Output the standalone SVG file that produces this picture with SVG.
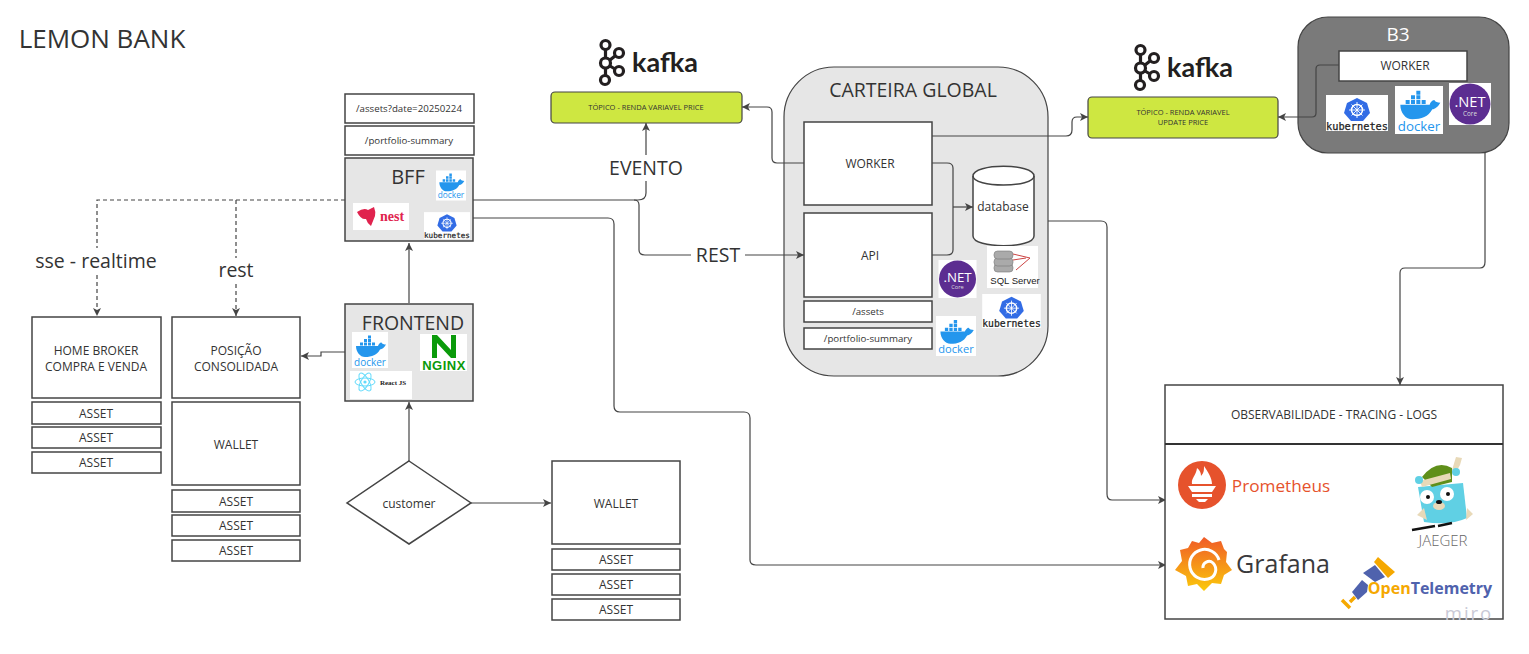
<svg xmlns="http://www.w3.org/2000/svg" width="1529" height="654" viewBox="0 0 1529 654">
<style>
text{font-family:"Open Sans","Noto Sans","Liberation Sans",sans-serif;fill:#333;text-anchor:middle}
.b{fill:#fff;stroke:#444;stroke-width:1.5}
.g{fill:#e6e6e6;stroke:#444;stroke-width:1.5}
.t{font-size:12px}
.s{font-size:9.700px}
.x{font-size:7.500px}
.c{fill:none;stroke:#444;stroke-width:1.2}
.d{stroke-dasharray:4 3}
.a{marker-end:url(#arr)}
.lime{fill:#cee741;stroke:#444;stroke-width:1.2}
.lbl{font-size:19.500px}
</style>
<defs>
<marker id="arr" markerWidth="10" markerHeight="10" refX="8" refY="4" orient="auto" markerUnits="userSpaceOnUse"><path d="M0 0L8 4L0 8L2 4Z" fill="#444"/></marker>
<linearGradient id="gr" x1="0" y1="0" x2="0" y2="1"><stop offset="0" stop-color="#f05a28"/><stop offset="1" stop-color="#fbca0a"/></linearGradient>
<symbol id="docker" viewBox="0 0 36 36" overflow="visible">
<rect width="36" height="36" fill="#fff"/>
<path d="M4 14H26C27 11 29 10.500 29.500 10.500C30 12 32 12.500 34 12.500C32 16 30 17 28 17.500C25 23 20 25 13 25C8 25 4 20 4 14Z" fill="#2496ed"/>
<path d="M8 10.500h3v3h-3zM12 10.500h3v3h-3zM16 10.500h3v3h-3zM20 10.500h3v3h-3zM12 7h3v3h-3zM16 7h3v3h-3zM16 3.500h3v3h-3z" fill="#2496ed"/>
<text x="18" y="33.500" style="font-size:10px;fill:#2496ed">docker</text>
</symbol>
<symbol id="k8s" viewBox="0 0 62 36" overflow="visible">
<rect width="62" height="36" fill="#fff"/>
<path d="M31 3L41 8L44 18L37 26H25L18 18L21 8Z" fill="#326ce5"/>
<circle cx="31" cy="15" r="5.500" fill="none" stroke="#fff" stroke-width="1.500"/>
<path d="M31 7V23M23 15H39M25.500 9.500L36.500 20.500M36.500 9.500L25.500 20.500" stroke="#fff" stroke-width=".9"/>
<text x="31" y="34.500" style="font-family:'DejaVu Sans Mono','Liberation Mono',monospace;font-size:10.300px;fill:#222;stroke:#222;stroke-width:.25">kubernetes</text>
</symbol>
<symbol id="net" viewBox="0 0 40 40" overflow="visible">
<rect width="40" height="40" fill="#fff"/>
<circle cx="20" cy="20" r="19.500" fill="#5c2d91"/>
<text x="20" y="23" style="font-size:14px;fill:#fff">.NET</text>
<text x="20" y="31" style="font-size:6px;fill:#ddd">Core</text>
</symbol>
<symbol id="kafka" viewBox="0 0 104 48" overflow="visible">
<g fill="none" stroke="#231f20" stroke-width="3.200">
<circle cx="8.500" cy="7" r="4.500"/><circle cx="8.500" cy="25" r="5"/><circle cx="8" cy="42" r="4.500"/><circle cx="22" cy="15" r="4.500"/><circle cx="22" cy="33" r="4.500"/>
<path d="M8.500 11.500V20M8.500 30V37.500M13 22L18 18M13 28L18 31"/>
</g>
<text x="68" y="34" style="font-family:'Lato','Open Sans',sans-serif;font-size:27px;font-weight:700;fill:#231f20">kafka</text>
</symbol>
</defs>
<rect width="1529" height="654" fill="#fff"/>
<text x="102" y="48" style="font-size:26px">LEMON BANK</text>

<g id="carteira"><rect x="784" y="67" width="264" height="309" rx="50" fill="#e6e6e6" stroke="#444" stroke-width="1.200"/><text x="913" y="97" style="font-size:19.500px">CARTEIRA GLOBAL</text></g>
<g id="b3"><rect x="1298" y="17" width="211" height="136" rx="30" fill="#7a7a7a" stroke="#444" stroke-width="1.200"/><text x="1398" y="41" style="font-size:19px;fill:#fff">B3</text></g>

<g id="connectors">
<path class="c d" d="M345 200H97V248M236 200V258"/>
<path class="c d a" d="M97 275V316"/>
<path class="c d a" d="M236 284V316"/>
<path class="c" d="M473 200H634Q639 200 639 205V250Q639 255 645 255H691"/>
<path class="c a" d="M745 255H804"/>
<path class="c" d="M634 200H638Q646 200 646 193V181"/>
<path class="c a" d="M646 155V123"/>
<path class="c a" d="M473 218H608Q614 218 614 224V406Q614 412 620 412H744Q750 412 750 418V560Q750 565 756 565H1166"/>
<path class="c a" d="M345 352H321V356H301"/>
<path class="c a" d="M409 303V243"/>
<path class="c a" d="M409 461V402"/>
<path class="c a" d="M471 503H551"/>
<path class="c a" d="M804 163H777Q772 163 772 158V112Q772 107 767 107H742"/>
<path class="c a" d="M932 136H1066Q1072 136 1072 130V122Q1072 117 1077 117H1088"/>
<path class="c" d="M932 163H947Q953 163 953 168V250Q953 255 947 255H932"/>
<path class="c a" d="M953 207H973"/>
<path class="c a" d="M1048 221H1101Q1107 221 1107 227V494Q1107 500 1112 500H1166"/>
<path class="c a" d="M1339 65H1320Q1316 65 1316 69V113Q1316 117 1312 117H1278"/>
<path class="c a" d="M1485 153V262Q1485 268 1480 268H1405Q1400 268 1400 273V385"/>
</g>
<text x="96" y="268" class="lbl">sse - realtime</text>
<text x="236" y="277" class="lbl">rest</text>
<text x="646" y="175" class="lbl">EVENTO</text>
<text x="718" y="262" class="lbl">REST</text>

<g id="kafka1"><use href="#kafka" x="597" y="38" width="104" height="48"/></g>
<g id="topic1"><rect class="lime" x="551" y="92" width="191" height="31" rx="4"/><text class="x" x="646" y="110">TÓPICO - RENDA VARIAVEL PRICE</text></g>
<g id="kafka2"><use href="#kafka" x="1132" y="43" width="104" height="48"/></g>
<g id="topic2"><rect class="lime" x="1088" y="97" width="190" height="41" rx="4"/><text class="x" x="1183" y="115">TÓPICO - RENDA VARIAVEL</text><text class="x" x="1183" y="125">UPDATE PRICE</text></g>

<g id="b3-worker"><rect class="b" x="1339" y="51" width="128" height="30"/><text class="t" x="1405" y="70">WORKER</text></g>
<use href="#k8s" x="1326" y="95" width="62" height="36"/>
<use href="#docker" x="1395" y="86" width="48" height="48"/>
<use href="#net" x="1449" y="83" width="42" height="42"/>

<g id="path1"><rect class="b" x="345" y="94" width="129" height="29"/><text class="s" x="409" y="112">/assets?date=20250224</text></g>
<g id="path2"><rect class="b" x="345" y="126" width="129" height="29"/><text class="s" x="409" y="144">/portfolio-summary</text></g>
<g id="bff"><rect class="g" x="345" y="158" width="128" height="83"/><text x="408" y="184" style="font-size:20px">BFF</text>
<use href="#docker" x="436" y="170" width="30" height="31"/>
<rect x="353" y="203" width="56" height="27" fill="#fff"/>
<path d="M357 212Q364 207 368 210L374 207Q376 212 375 216L371 226Q367 223 366 219Q361 220 357 212Z" fill="#e0234e"/>
<text x="392" y="221" style="font-family:'Liberation Serif',serif;font-size:14px;font-weight:700;fill:#e0234e">nest</text>
<use href="#k8s" x="424" y="212" width="46" height="27"/></g>

<g id="frontend"><rect class="g" x="345" y="304" width="128" height="97"/><text x="413" y="330" style="font-size:19.500px">FRONTEND</text>
<use href="#docker" x="352" y="332" width="36" height="36"/>
<rect x="420" y="334" width="47" height="37" fill="#fff"/>
<path d="M432 358V335H437L451 350V335H456V358H451L437 343V358Z" fill="#0a9a0a"/>
<text x="444" y="370" style="font-family:'Liberation Sans',sans-serif;font-size:13px;font-weight:700;fill:#0a9a0a;letter-spacing:.5px">NGINX</text>
<rect x="350" y="371" width="62" height="28" fill="#fff"/>
<g fill="none" stroke="#61dafb" stroke-width="1"><ellipse cx="365" cy="382" rx="10" ry="4"/><ellipse cx="365" cy="382" rx="10" ry="4" transform="rotate(60 365 382)"/><ellipse cx="365" cy="382" rx="10" ry="4" transform="rotate(120 365 382)"/></g>
<circle cx="365" cy="382" r="1.600" fill="#61dafb"/>
<text x="393" y="385" style="font-family:'Liberation Serif',serif;font-size:7px;font-weight:700;fill:#222">React JS</text></g>

<g id="homebroker"><rect class="b" x="32" y="317" width="129" height="81"/><text class="t" x="96" y="355">HOME BROKER</text><text class="t" x="96" y="371">COMPRA E VENDA</text></g>
<g id="asset1"><rect class="b" x="32" y="402" width="129" height="22"/><text class="t" x="96" y="418">ASSET</text></g>
<g id="asset2"><rect class="b" x="32" y="427" width="129" height="21"/><text class="t" x="96" y="442">ASSET</text></g>
<g id="asset3"><rect class="b" x="32" y="452" width="129" height="21"/><text class="t" x="96" y="467">ASSET</text></g>

<g id="posicao"><rect class="b" x="172" y="317" width="128" height="81"/><text class="t" x="236" y="355">POSIÇÃO</text><text class="t" x="236" y="371">CONSOLIDADA</text></g>
<g id="wallet1"><rect class="b" x="172" y="402" width="128" height="83"/><text class="t" x="236" y="449">WALLET</text></g>
<g id="asset4"><rect class="b" x="172" y="490" width="128" height="22"/><text class="t" x="236" y="506">ASSET</text></g>
<g id="asset5"><rect class="b" x="172" y="515" width="128" height="21"/><text class="t" x="236" y="530">ASSET</text></g>
<g id="asset6"><rect class="b" x="172" y="540" width="128" height="21"/><text class="t" x="236" y="555">ASSET</text></g>

<g id="customer"><path class="b" d="M409 461L471 503L409 544L347 503Z"/><text class="t" x="409" y="508">customer</text></g>

<g id="wallet2"><rect class="b" x="552" y="461" width="128" height="83"/><text class="t" x="616" y="508">WALLET</text></g>
<g id="asset7"><rect class="b" x="552" y="549" width="128" height="21"/><text class="t" x="616" y="564">ASSET</text></g>
<g id="asset8"><rect class="b" x="552" y="574" width="128" height="21"/><text class="t" x="616" y="589">ASSET</text></g>
<g id="asset9"><rect class="b" x="552" y="599" width="128" height="21"/><text class="t" x="616" y="614">ASSET</text></g>

<g id="worker"><rect class="b" x="804" y="122" width="128" height="83"/><text class="t" x="870" y="168">WORKER</text></g>
<g id="api"><rect class="b" x="804" y="213" width="128" height="84"/><text class="t" x="870" y="260">API</text></g>
<g id="assets"><rect class="b" x="804" y="301" width="128" height="21"/><text class="s" x="868" y="315">/assets</text></g>
<g id="summary"><rect class="b" x="804" y="328" width="128" height="21"/><text class="s" x="868" y="342">/portfolio-summary</text></g>
<g id="database"><path d="M973 176C973 163 1034 163 1034 176V236C1034 249 973 249 973 236Z" fill="#fff" stroke="#444" stroke-width="1.500"/><path d="M973 176C973 188 1034 188 1034 176" fill="none" stroke="#444" stroke-width="1.500"/><text x="1003" y="211" style="font-size:12px">database</text></g>

<use href="#net" x="938" y="260" width="39" height="38"/>
<rect x="987" y="246" width="51" height="42" fill="#fff"/>
<g fill="#aaa" stroke="#777" stroke-width=".6"><rect x="994" y="264" width="19" height="8" rx="3.500"/><rect x="994" y="258" width="19" height="8" rx="3.500"/><rect x="994" y="251" width="19" height="8" rx="3.500"/></g>
<path d="M1013 254L1030 258L1016 270M1013 260L1026 258" fill="none" stroke="#c44" stroke-width="1"/>
<text x="1015" y="284" style="font-family:'Liberation Sans',sans-serif;font-size:9.500px;fill:#222">SQL Server</text>
<use href="#k8s" x="981" y="294" width="61" height="34"/>
<use href="#docker" x="936" y="316" width="40" height="40"/>

<g id="observ"><rect class="b" x="1165" y="385" width="338" height="234"/><path d="M1165 444H1503" stroke="#333" stroke-width="2"/><text class="t" x="1334" y="419">OBSERVABILIDADE - TRACING - LOGS</text></g>
<g id="prometheus"><circle cx="1202" cy="485" r="24" fill="#e6522c"/>
<path d="M1192 484C1191 478 1196 476 1197 468C1200 470 1201 473 1201 476C1204 473 1204 470 1204 466C1208 472 1212 478 1212 484Z M1188 486H1216L1212 492H1192Z M1192 494H1212V497H1192Z M1196 499H1208L1205 502H1199Z" fill="#fff"/>
<text x="1281" y="492" style="font-size:17.200px;fill:#e6522c;font-family:'Open Sans',sans-serif">Prometheus</text></g>
<g id="grafana"><path d="M1204 537L1212 543L1221 541L1224 549L1227 552L1226 562L1232 570L1224 575L1221 584L1212 583L1204 591L1197 584L1188 586L1186 576L1175 570L1182 561L1180 550L1188 548L1192 541L1199 543Z" fill="url(#gr)"/>
<path d="M1219 560A15 15 0 1 0 1208 579A9.500 9.500 0 0 0 1213 563A6 6 0 0 0 1203 568" fill="none" stroke="#fff" stroke-width="3"/>
<text x="1283" y="573" style="font-size:25px;font-weight:500;fill:#3a3a3c;font-family:'Open Sans',sans-serif">Grafana</text></g>
<g id="jaeger"><path d="M1418 487L1463 483L1467 518Q1450 526 1424 522Z" fill="#60d0e4"/>
<path d="M1417 515L1424 508L1427 520ZM1467 508L1473 514L1466 520Z" fill="#e8d9b8"/>
<path d="M1422 477Q1436 459 1452 468L1452 482L1432 487Z" fill="#5f8f1a"/>
<path d="M1420 481L1450 473L1451 479L1422 487Z" fill="#e8d9b8"/>
<path d="M1452 470L1456 457L1462 458L1460 465L1456 472Z" fill="#e8d9b8"/>
<circle cx="1419" cy="480" r="4" fill="#60d0e4"/><circle cx="1456" cy="472" r="4" fill="#60d0e4"/>
<circle cx="1427" cy="497" r="7" fill="#fff"/><circle cx="1447" cy="494" r="7" fill="#fff"/><circle cx="1428" cy="497" r="2" fill="#111"/><circle cx="1448" cy="494" r="2" fill="#111"/>
<ellipse cx="1439" cy="506" rx="6" ry="4" fill="#e8d9b8"/><ellipse cx="1439" cy="502" rx="3" ry="2" fill="#111"/>
<path d="M1412 530L1435 526M1438 526L1452 523" stroke="#111" stroke-width="2.500"/>
<text x="1443" y="546" style="font-size:15px;font-weight:300;fill:#666">JAEGER</text></g>
<g id="otel"><path d="M1378 557L1395 572L1388 578L1374 562Z" fill="#f5a800"/><path d="M1363 573L1375 565L1385 577L1375 582Z" fill="#4f62ad"/><path d="M1352 592L1362 580L1368 585L1367 592L1358 600Z" fill="#4f62ad"/><path d="M1342 600L1350 608M1350 602L1355 597" stroke="#f5a800" stroke-width="3.500"/>
<text x="1430" y="594" style="font-size:16px;font-weight:700;fill:#4f62ad;font-family:'Open Sans',sans-serif"><tspan fill="#f5a800">Open</tspan>Telemetry</text></g>
<text x="1469" y="619.500" style="font-size:18.500px;letter-spacing:2px;fill:#c9c9d6;font-family:'Open Sans',sans-serif">miro</text>
</svg>
